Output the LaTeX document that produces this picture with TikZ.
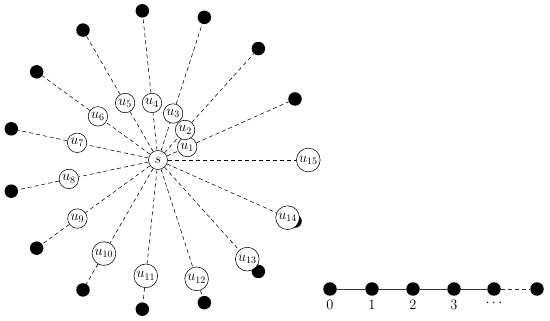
\documentclass[tikz,border=0pt]{standalone}
\usetikzlibrary{backgrounds}
\begin{document}
\begin{tikzpicture}[x=1pt,y=-1pt,
  leaf/.style={circle,fill=black,inner sep=0pt,minimum size=13.5pt},
  unode/.style={circle,draw,fill=white,inner sep=1.3pt,line width=0.55pt,font=\fontsize{14}{16}\selectfont},
  edge/.style={line width=0.55pt,dash pattern=on 4pt off 3pt},
  pathline/.style={line width=0.7pt,black!80},
  numlab/.style={font=\fontsize{14}{16}\selectfont,label distance=1pt}]
\useasboundingbox (0,0) rectangle (550,321);
% leaves
\foreach \i in {1,...,15}{
  \pgfmathsetmacro\lx{158+150*cos(24*\i)}
  \pgfmathsetmacro\ly{160-150*sin(24*\i)}
  \node[leaf] (l\i) at (\lx,\ly) {};
}
% inner nodes
\foreach \i in {1,...,15}{
  \pgfmathsetmacro\rr{32+8.45*(\i-1)}
  \pgfmathsetmacro\ux{158+\rr*cos(24*\i)}
  \pgfmathsetmacro\uy{160-\rr*sin(24*\i)}
  \node[unode] (u\i) at (\ux,\uy) {$u_{\i}$};
}
\node[unode,minimum size=19pt] (s) at (158,160) {$s$};
\begin{pgfonlayer}{background}
\foreach \i in {1,...,15}{
  \draw[edge] (s) -- (u\i) -- (l\i);
}
\end{pgfonlayer}
% path
\node[leaf,label={[numlab]below:$0$}] (p0) at (330,289) {};
\node[leaf,label={[numlab]below:$1$}] (p1) at (372,289) {};
\node[leaf,label={[numlab]below:$2$}] (p2) at (413,289) {};
\node[leaf,label={[numlab]below:$3$}] (p3) at (454,289) {};
\node[leaf,label={[numlab]below:$\cdots$}] (p4) at (494,289) {};
\node[leaf] (p5) at (537,289) {};
\begin{pgfonlayer}{background}
\draw[pathline] (p0) -- (p1) -- (p2) -- (p3) -- (p4);
\draw[pathline,dash pattern=on 4pt off 3pt] (p4) -- (p5);
\end{pgfonlayer}
\end{tikzpicture}
\end{document}
